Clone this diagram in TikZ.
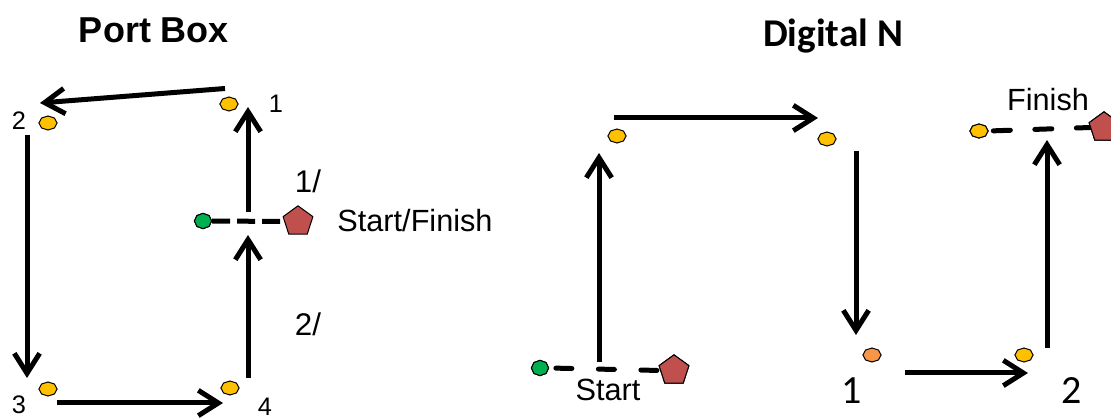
\documentclass[tikz,border=0pt]{standalone}
\usepackage{fontspec}
\setmainfont{Liberation Sans}
\newfontfamily\calib{Carlito}
\usetikzlibrary{arrows.meta,shapes.geometric}
\definecolor{ylw}{HTML}{FFC000}
\definecolor{org}{HTML}{F79646}
\definecolor{grn}{HTML}{00B050}
\definecolor{pred}{HTML}{C0504D}
\begin{document}
\begin{tikzpicture}[x=0.75pt,y=-0.75pt,
  arr/.style={line width=3.75pt,-{Straight Barb[length=15pt,width=19pt]}},
  ldash/.style={line width=3.75pt,dash pattern=on 13.5pt off 5.25pt},
  rdash/.style={line width=3.75pt,line cap=round,dash pattern=on 12pt off 19.9pt},
  octbase/.style={regular polygon,regular polygon sides=8,regular polygon rotate=22.5,minimum size=10.5pt,inner sep=0pt,draw=black,line width=0.75pt,transform shape},
  ydot/.style={octbase,fill=ylw,xscale=1.3},
  odot/.style={octbase,fill=org,xscale=1.3},
  gdot/.style={octbase,fill=grn,xscale=1.12,minimum size=11.5pt},
  pent/.style={regular polygon,regular polygon sides=5,minimum size=23.5pt,inner sep=0pt,draw=black,line width=0.75pt,fill=pred},
  lbl/.style={inner sep=0pt,anchor=base,font=\fontsize{19}{21}\selectfont},
  midlbl/.style={inner sep=0pt,anchor=base,font=\fontsize{23.5}{26}\selectfont},
  txt/.style={inner sep=0pt,anchor=base,font=\fontsize{23}{25}\selectfont},
  biglbl/.style={inner sep=0pt,anchor=base,font=\calib\fontsize{30}{32}\selectfont},
  ttl/.style={inner sep=0pt,anchor=base,font=\bfseries\fontsize{27}{30}\selectfont},
  ttlc/.style={inner sep=0pt,anchor=base,font=\calib\bfseries\fontsize{29.5}{32}\selectfont}
]
\fill[white] (0,0) rectangle (1111,420);
\useasboundingbox (0,0) rectangle (1111,420);

% ---------- titles
\node[ttl] (t1) at (154,43) {Port Box};
\node[ttlc] (t2) at (833,47) {Digital N};

% ---------- left diagram coordinates
\coordinate (a1s) at (225,88.5);
\coordinate (a1e) at (40,103);
\coordinate (a2s) at (27,135);
\coordinate (a2e) at (27,378);
\coordinate (a3s) at (57,403);
\coordinate (a3e) at (223,403);
\coordinate (a4s) at (248,378);
\coordinate (a4e) at (248,235);
\coordinate (a5s) at (248,212);
\coordinate (a5e) at (248,107);

\draw[arr] (a1s) -- (a1e);
\draw[arr] (a2s) -- (a2e);
\draw[arr] (a3s) -- (a3e);
\draw[arr] (a4s) -- (a4e);
\draw[arr] (a5s) -- (a5e);

\node[ydot] (p1) at (229,104) {};
\node[ydot] (p2) at (48,123) {};
\node[ydot] (p3) at (48,389) {};
\node[ydot] (p4) at (230,388) {};
\node[gdot] (lg) at (203,221) {};
\node[pent] (lp) at (298,221.5) {};
\draw[ldash] (lg.east) -- (lp.west);
\node[gdot] at (203,221) {};

\node[lbl] (l1) at (276,113) {1};
\node[lbl] (l2) at (19,130) {2};
\node[lbl] (l3) at (19,414) {3};
\node[lbl] (l4) at (265,416) {4};
\node[midlbl] (l1s) at (308,193) {1/};
\node[midlbl] (l2s) at (308,336) {2/};
\node[txt] (lsf) at (415,232) {Start/Finish};

% ---------- right diagram coordinates
\coordinate (b1s) at (599,362);
\coordinate (b1e) at (599,153);
\coordinate (b2s) at (614,118);
\coordinate (b2e) at (818,118);
\coordinate (b3s) at (856,151);
\coordinate (b3e) at (856,335);
\coordinate (b4s) at (905,373);
\coordinate (b4e) at (1028,373);
\coordinate (b5s) at (1047,348);
\coordinate (b5e) at (1047,140);

\draw[arr] (b1s) -- (b1e);
\draw[arr] (b2s) -- (b2e);
\draw[arr] (b3s) -- (b3e);
\draw[arr] (b4s) -- (b4e);
\draw[arr] (b5s) -- (b5e);

\node[gdot] (rg) at (540,368) {};
\node[pent] (rp) at (674,370.5) {};
\node[ydot] (q1) at (617,136) {};
\node[ydot] (q2) at (827,139) {};
\node[odot] (q3) at (872,355) {};
\node[ydot] (q4) at (1024,355) {};
\node[ydot] (q5) at (979,131) {};
\node[pent] (fp) at (1104,127.5) {};

\draw[rdash,shorten <=5pt] (rg.east) -- (rp.west);
\draw[rdash,shorten <=3.4pt,dash pattern=on 12.75pt off 18.4pt] (q5.east) -- (fp.west);
\node[pent] at (674,370.5) {};
\node[pent] at (1104,127.5) {};
\node[gdot] at (540,368) {};
\node[ydot] at (979,131) {};

\node[txt] (rs) at (608,401) {Start};
\node[txt] (rf) at (1048,111) {Finish};
\node[biglbl] (r1) at (852,403) {1};
\node[biglbl] (r2) at (1072,403) {2};
\end{tikzpicture}
\end{document}
